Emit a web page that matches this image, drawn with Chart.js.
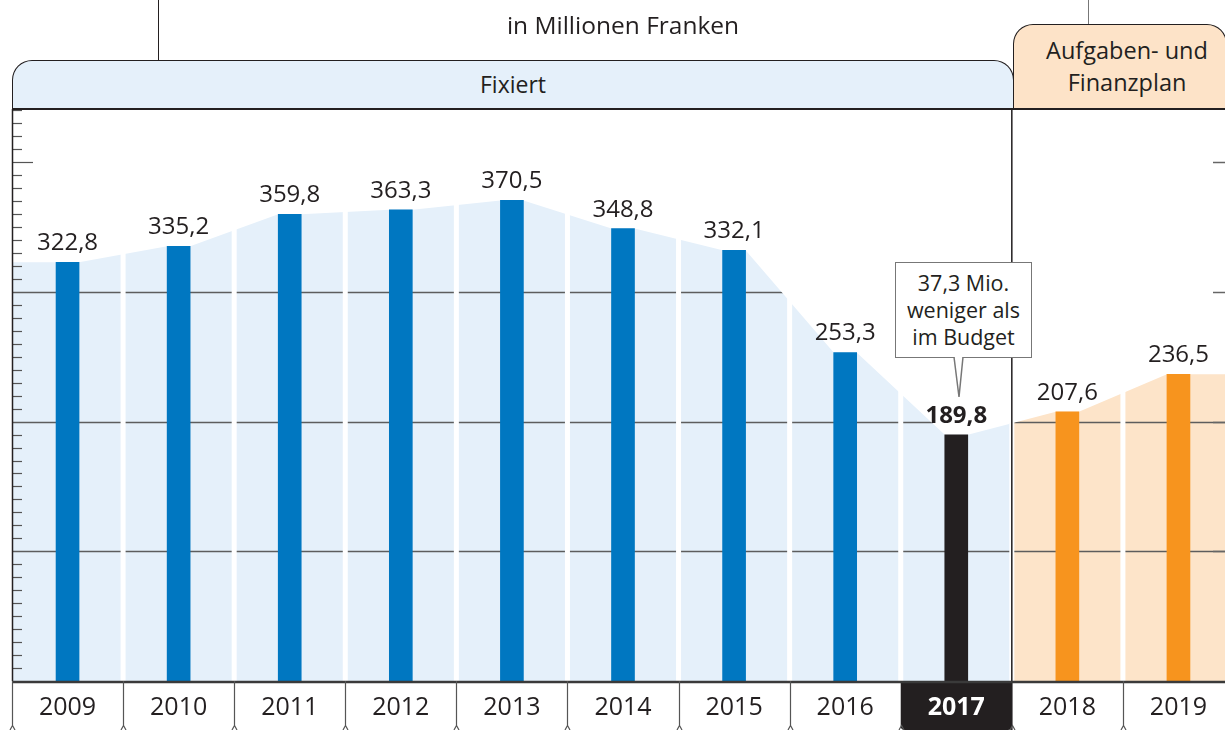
<!DOCTYPE html>
<html>
<head>
<meta charset="utf-8">
<script src="https://cdn.jsdelivr.net/npm/chart.js@4.4.0/dist/chart.umd.min.js"></script>
<style>
body { margin: 0; width: 1225px; height: 730px; overflow: hidden; background: #fff; position: relative; font-family: 'Open Sans', sans-serif; color: #231f20; }
#chart { position: absolute; left: 0; top: 0; }
.vline { position: absolute; top: 0; width: 1.5px; }
.title { position: absolute; left: 0; width: 1246px; top: 8px; text-align: center; font-size: 24.5px; line-height: 34px; }
.band { position: absolute; box-sizing: border-box; border: 1.5px solid #231f20; border-bottom-width: 2px; border-radius: 20px 20px 0 0; text-align: center; font-size: 23px; }
#fix { left: 12px; top: 60px; width: 1002px; height: 50px; background: #e5f0fa; line-height: 46px; }
#plan { left: 1013px; top: 24px; width: 214px; height: 86px; background: #fde3c8; line-height: 32px; padding: 9px 0 0 14px; font-size: 23.5px; }
#note { position: absolute; left: 895px; top: 262px; width: 137px; height: 96px; box-sizing: border-box; border: 1.5px solid #777; background: #fff; text-align: center; font-size: 21.5px; line-height: 27px; padding-top: 6px; }
#pointer { position: absolute; left: 950px; top: 355px; }
</style>
</head>
<body>
<canvas id="chart" width="1240" height="730"></canvas>
<div class="vline" style="left:157.5px;height:60px;background:#231f20"></div>
<div class="vline" style="left:1087.5px;height:24px;background:#777"></div>
<div class="title">in Millionen Franken</div>
<div class="band" id="fix">Fixiert</div>
<div class="band" id="plan">Aufgaben- und<br>Finanzplan</div>
<div id="note">37,3 Mio.<br>weniger als<br>im Budget</div>
<svg id="pointer" width="18" height="46">
  <polygon points="4,0 13,0 9,42" fill="#fff"/>
  <polyline points="4,2 9,42 13,2" fill="none" stroke="#777" stroke-width="1.5"/>
</svg>
<script>
// Werte in Mio. Franken
const years = ['2009', '2010', '2011', '2012', '2013', '2014', '2015', '2016', '2017', '2018', '2019'];
const values = [322.8, 335.2, 359.8, 363.3, 370.5, 348.8, 332.1, 253.3, 189.8, 207.6, 236.5];
const currentYear = '2017';
const gridValues = [100, 200, 300, 400];

const yMax = 441;
const cur = years.indexOf(currentYear);
const blue = '#0077c1', orange = '#f7941e', dark = '#231f20';
const halfBar = 0.1035; // halbe Balkenbreite in Kategorien

function fmt(v) {
	return v.toFixed(1).replace('.', ',');
}

// Flaeche laeuft ueber die Balkenecken
function areaPoints() {
	var pts = [{x: -0.5, y: values[0]}];
	values.forEach(function(v, i) {
		pts.push({x: i - halfBar, y: v});
		pts.push({x: i + halfBar, y: v});
	});
	pts.push({x: values.length - 0.5, y: values[values.length - 1]});
	return pts;
}

function splitPx(chart) {
	return chart.scales.xl.getPixelForValue(cur + 0.5);
}

// muss vor dem Filler laufen, sonst wird die Flaeche nicht beschnitten
const regionClip = {
	id: 'regionClip',
	beforeDatasetDraw(chart, args) {
		var ds = chart.data.datasets[args.index];
		if (!ds.region) return;
		var a = chart.chartArea, ctx = chart.ctx, s = splitPx(chart);
		ctx.save();
		ctx.beginPath();
		if (ds.region === 'fix') ctx.rect(a.left, a.top, s - a.left, a.bottom - a.top);
		else ctx.rect(s, a.top, a.right - s, a.bottom - a.top);
		ctx.clip();
	},
	afterDatasetDraw(chart, args) {
		if (chart.data.datasets[args.index].region) chart.ctx.restore();
	}
};
Chart.unregister(Chart.Filler);
Chart.register(regionClip, Chart.Filler);

const decor = {
	id: 'decor',
	beforeDraw(chart) {
		// schwarzes Feld fuer das aktuelle Jahr
		var ctx = chart.ctx, a = chart.chartArea, xl = chart.scales.xl;
		var x0 = xl.getPixelForValue(cur - 0.5), x1 = xl.getPixelForValue(cur + 0.5);
		ctx.save();
		ctx.fillStyle = dark;
		ctx.beginPath();
		ctx.roundRect(x0, a.bottom, x1 - x0, 730 - a.bottom, [0, 0, 4, 4]);
		ctx.fill();
		ctx.restore();
	},
	beforeDatasetDraw(chart, args) {
		if (args.index !== 0) return;
		var ctx = chart.ctx, a = chart.chartArea, y = chart.scales.y, xl = chart.scales.xl;
		var pts = chart.getDatasetMeta(1).data;

		// Gitterlinien nur innerhalb der Flaeche
		ctx.save();
		ctx.beginPath();
		ctx.moveTo(pts[0].x, a.bottom);
		pts.forEach(function(p) { ctx.lineTo(p.x, p.y); });
		ctx.lineTo(pts[pts.length - 1].x, a.bottom);
		ctx.closePath();
		ctx.clip();
		ctx.strokeStyle = '#5d5d5d';
		ctx.lineWidth = 1.5;
		gridValues.forEach(function(v) {
			var py = Math.round(y.getPixelForValue(v)) + 0.5;
			ctx.beginPath();
			ctx.moveTo(a.left, py);
			ctx.lineTo(a.right, py);
			ctx.stroke();
		});
		ctx.restore();

		// weisse Trennstreifen
		ctx.save();
		ctx.fillStyle = '#fff';
		for (var i = 0; i < values.length - 1; i++) {
			var px = xl.getPixelForValue(i + 0.5);
			ctx.fillRect(px - 2.5, a.top, 5, a.bottom - a.top);
		}
		ctx.restore();

		// kleine Skalenstriche links
		ctx.save();
		ctx.strokeStyle = '#555';
		ctx.lineWidth = 1.2;
		for (var v = 10; v < yMax; v += 10) {
			if (v % 100 === 0 && v < 400) continue;
			var ty = Math.round(y.getPixelForValue(v)) + 0.5;
			ctx.beginPath();
			ctx.moveTo(a.left, ty);
			ctx.lineTo(a.left + (v % 100 === 0 ? 21 : 10), ty);
			ctx.stroke();
		}
		ctx.restore();
	},
	afterDatasetsDraw(chart) {
		var ctx = chart.ctx, a = chart.chartArea, y = chart.scales.y, xl = chart.scales.xl;
		var s = splitPx(chart);
		ctx.save();

		// Rahmen
		ctx.strokeStyle = dark;
		ctx.lineWidth = 1.5;
		ctx.beginPath();
		ctx.moveTo(a.left + 0.5, a.top);
		ctx.lineTo(a.left + 0.5, a.bottom);
		ctx.moveTo(s, a.top);
		ctx.lineTo(s, 730);
		ctx.stroke();

		// rechte Skalenstriche
		ctx.strokeStyle = '#666';
		gridValues.forEach(function(v) {
			var ry = Math.round(y.getPixelForValue(v)) + 0.5;
			ctx.beginPath();
			ctx.moveTo(1213, ry);
			ctx.lineTo(1225, ry);
			ctx.stroke();
		});

		// x-Achse
		ctx.strokeStyle = '#3a3a3a';
		ctx.lineWidth = 2.5;
		ctx.beginPath();
		ctx.moveTo(a.left, a.bottom + 1);
		ctx.lineTo(a.right, a.bottom + 1);
		ctx.stroke();

		// Trennstriche unten
		ctx.strokeStyle = '#555';
		ctx.lineWidth = 1.2;
		for (var i = -1; i < values.length; i++) {
			var px = Math.round(xl.getPixelForValue(i + 0.5)) + 0.5;
			ctx.beginPath();
			if (i !== cur && i !== cur - 1) {
				ctx.moveTo(px, a.bottom);
				ctx.lineTo(px, 726);
			}
			ctx.moveTo(px - 2.5, 730);
			ctx.lineTo(px, 725.5);
			ctx.lineTo(px + 2.5, 730);
			ctx.stroke();
		}

		// Werte
		var meta = chart.getDatasetMeta(0);
		ctx.fillStyle = dark;
		ctx.textAlign = 'center';
		ctx.textBaseline = 'alphabetic';
		meta.data.forEach(function(bar, i) {
			ctx.font = (i === cur ? 'bold ' : '') + '24px "Open Sans"';
			ctx.fillText(fmt(values[i]), bar.x, bar.y - 12);
		});
		ctx.restore();
	}
};

Chart.defaults.font.family = "'Open Sans', sans-serif";

new Chart(document.getElementById('chart'), {
	type: 'bar',
	data: {
		labels: years,
		datasets: [{
			type: 'bar',
			data: values,
			xAxisID: 'x',
			yAxisID: 'y',
			barThickness: 23,
			grouped: false,
			backgroundColor: function(c) {
				return c.dataIndex === cur ? dark : (c.dataIndex > cur ? orange : blue);
			},
			order: 1
		}, {
			type: 'line',
			region: 'fix',
			data: areaPoints(),
			xAxisID: 'xl',
			yAxisID: 'y',
			fill: 'origin',
			backgroundColor: '#e5f0fa',
			borderWidth: 0,
			pointRadius: 0,
			tension: 0,
			order: 3
		}, {
			type: 'line',
			region: 'plan',
			data: areaPoints(),
			xAxisID: 'xl',
			yAxisID: 'y',
			fill: 'origin',
			backgroundColor: '#fde4c9',
			borderWidth: 0,
			pointRadius: 0,
			tension: 0,
			order: 2
		}]
	},
	options: {
		responsive: false,
		animation: false,
		layout: { padding: { left: 12, top: 109, right: 6, bottom: 0 } },
		plugins: { legend: { display: false }, tooltip: { enabled: false } },
		scales: {
			x: {
				type: 'category',
				offset: true,
				grid: { display: false },
				border: { display: false },
				ticks: {
					padding: 4,
					font: function(c) {
						return { size: 25, weight: c.index === cur ? 'bold' : 'normal' };
					},
					color: function(c) {
						return c.index === cur ? '#fff' : dark;
					}
				},
				afterFit: function(scale) { scale.height = 49; }
			},
			xl: { type: 'linear', min: -0.5, max: values.length - 0.5, offset: false, grace: 0, display: false },
			y: { min: 0, max: yMax, display: false }
		}
	},
	plugins: [decor]
});
</script>
</body>
</html>
